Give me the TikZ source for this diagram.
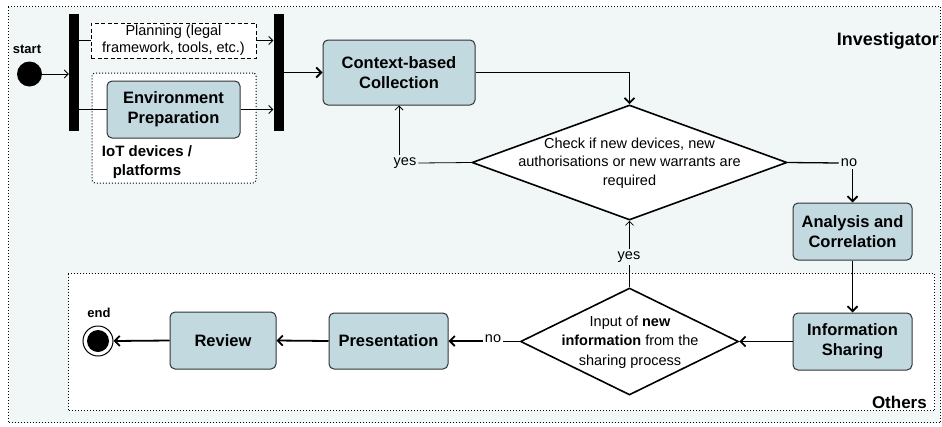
\documentclass[tikz,border=0pt]{standalone}
\usepackage{fontspec}
\setmainfont{Liberation Sans}
\usetikzlibrary{arrows.meta,shapes.geometric}
\definecolor{boxfill}{HTML}{C2D9E0}
\definecolor{bgfill}{HTML}{F1F6F7}
\definecolor{boxdraw}{HTML}{333333}
\begin{document}
\begin{tikzpicture}[x=1pt,y=-1pt,
  act/.style={draw=boxdraw, line width=1pt, fill=boxfill, rounded corners=5pt, align=center,
    font=\fontsize{16.5}{20}\selectfont\bfseries, inner sep=0pt},
  forkbar/.style={fill=black, draw=none, minimum width=10pt, minimum height=117pt, inner sep=0pt},
  decision/.style={diamond, draw=black, line width=1.6pt, fill=white, inner sep=0pt},
  dtext/.style={align=center, font=\fontsize{14.5}{18.3}\selectfont, inner sep=0pt},
  lbl/.style={font=\fontsize{14.5}{17}\selectfont, inner sep=2pt},
  boldlbl/.style={font=\fontsize{13}{15}\selectfont\bfseries, inner sep=0pt},
  dotbox/.style={draw=black, line width=1pt, dash pattern=on 1pt off 2pt, inner sep=0pt},
  thickarr/.style={-{Straight Barb[length=5pt,width=10pt]}, line width=1.8pt},
  thinarr/.style={-{Straight Barb[length=4pt,width=8pt]}, line width=0.8pt},
  thinline/.style={line width=0.8pt},
  medline/.style={line width=1.3pt},
  thickline/.style={line width=1.8pt},
]
\useasboundingbox (0,0) rectangle (942,426);

% swimlane areas
\node[dotbox, fill=bgfill, minimum width=932pt, minimum height=416pt, anchor=north west] (inv) at (8,6) {};
\node[dotbox, fill=white, minimum width=866pt, minimum height=137pt, anchor=north west] (oth) at (68,273) {};
\node[font=\fontsize{18}{20}\selectfont\bfseries, anchor=east, inner sep=0pt] (invlbl) at (939,41) {Investigator};
\node[font=\fontsize{17}{19}\selectfont\bfseries, anchor=east, inner sep=0pt] (othlbl) at (927,402) {Others};

% IoT devices group
\node[dotbox, fill=white, rounded corners=3pt, minimum width=164pt, minimum height=110pt] (iot) at (174,128) {};
\node[font=\fontsize{15}{19}\selectfont\bfseries, align=center, inner sep=0pt] (iotlbl) at (147,162.5) {IoT devices /\\platforms};

% start
\node[circle, fill=black, minimum size=25pt, inner sep=0pt] (start) at (29.5,74) {};
\node[boldlbl] (startlbl) at (27,49) {start};

% fork bars
\node[forkbar] (f1) at (74,72.5) {};
\node[forkbar] (f2) at (278.5,72.5) {};

% planning
\node[draw=black, line width=0.9pt, dash pattern=on 4pt off 2.5pt, fill=white, minimum width=165pt,
  minimum height=35pt, align=center, inner sep=0pt, font=\fontsize{14.5}{16.7}\selectfont] (plan) at (173.5,40.5)
  {Planning (legal\\framework, tools, etc.)};

% activities
\node[act, minimum width=133pt, minimum height=57pt] (env) at (173.5,109.5) {Environment\\Preparation};
\node[act, minimum width=152pt, minimum height=65pt] (ctx) at (399,72.5) {Context-based\\Collection};
\node[act, minimum width=119pt, minimum height=57pt] (ana) at (852.5,231.5) {Analysis and\\Correlation};
\node[act, minimum width=119pt, minimum height=57pt] (info) at (852.5,341.5) {Information\\Sharing};
\node[act, minimum width=119pt, minimum height=56pt] (pres) at (388.5,341) {Presentation};
\node[act, minimum width=106pt, minimum height=57pt] (rev) at (223,340.5) {Review};

% end
\node[circle, draw=black, line width=1pt, fill=white, minimum size=30pt, inner sep=0pt] (end) at (98,341) {};
\node[circle, fill=black, minimum size=22pt, inner sep=0pt] (endin) at (end.center) {};
\node[boldlbl] (endlbl) at (99,313) {end};

% decisions
\node[decision, minimum width=315pt, minimum height=115pt] (d1) at (629.5,162.5) {};
\node[dtext] (d1t) at (629.5,163) {Check if new devices, new\\authorisations or new warrants are\\required};
\node[decision, minimum width=218pt, minimum height=107pt] (d2) at (629.5,341.5) {};
\node[dtext, font=\fontsize{14.5}{19.5}\selectfont] (d2t) at (630,342) {Input of \textbf{new}\\\textbf{information} from the\\sharing process};

% guard labels
\node[lbl] (yes1) at (405,163) {yes};
\node[lbl] (no1) at (849,163) {no};
\node[lbl] (yes2) at (629,257) {yes};
\node[lbl] (no2) at (493,339) {no};

% connectors
\draw[thinarr] (start.east) -- (start.east -| f1.west);
\draw[thinline] (plan.west -| f1.east) -- (plan.west);
\draw[thinarr] (plan.east) -- (plan.east -| f2.west);
\draw[thinline] (env.west -| f1.east) -- (env.west);
\draw[thinarr] (env.east) -- (env.east -| f2.west);
\draw[thickarr] (ctx.west -| f2.east) -- (ctx.west);
\draw[thickarr] (ctx.east) -| (d1.north);
\draw[thinline] (d1.west) -- (yes1.east);
\draw[thinarr] (yes1.north -| ctx.south) -- (ctx.south);
\draw[medline] (d1.east) -- (no1.west);
\draw[thickarr] (no1.south -| ana.north) -- (ana.north);
\draw[thickarr] (ana.south) -- (info.north);
\draw[thickarr] (info.west) -- (d2.east);
\draw[thinline] (d2.north) -- (yes2.south -| d2.north);
\draw[thinarr] (yes2.north -| d1.south) -- (d1.south);
\draw[thickline] (d2.west) -- (d2.west -| no2.east);
\draw[thickarr] (pres.east -| no2.west) -- (pres.east);
\draw[thickarr] (pres.west) -- (rev.east);
\draw[thickarr] (rev.west) -- (end.east);
\end{tikzpicture}
\end{document}
